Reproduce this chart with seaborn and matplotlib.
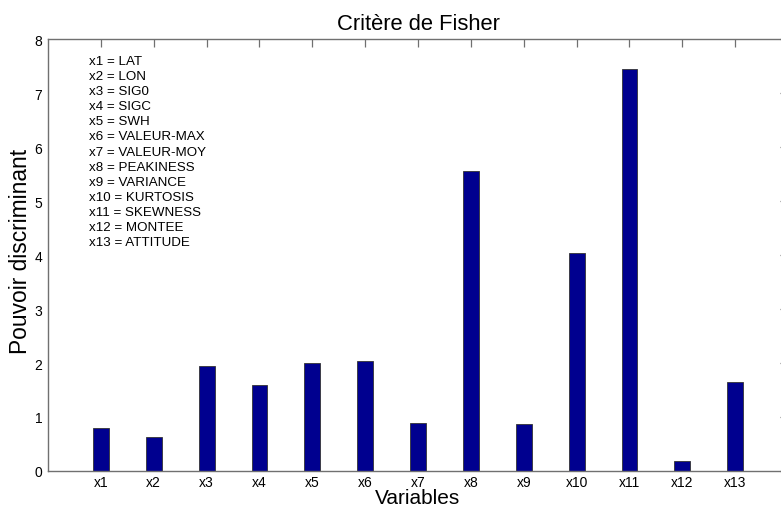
import matplotlib
matplotlib.use("Agg")
import matplotlib.pyplot as plt
import seaborn as sns
import pandas as pd

# Fisher criterion per variable
variables = ["x1", "x2", "x3", "x4", "x5", "x6", "x7", "x8", "x9", "x10", "x11", "x12", "x13"]
pouvoir = [0.80, 0.63, 1.94, 1.59, 2.00, 2.04, 0.89, 5.55, 0.87, 4.03, 7.44, 0.185, 1.65]
noms = ["LAT", "LON", "SIG0", "SIGC", "SWH", "VALEUR-MAX", "VALEUR-MOY",
        "PEAKINESS", "VARIANCE", "KURTOSIS", "SKEWNESS", "MONTEE", "ATTITUDE"]

df = pd.DataFrame({"var": variables, "val": pouvoir})

sns.set_style("white")
plt.rcParams["font.family"] = ["Liberation Sans", "DejaVu Sans"]
plt.rcParams["text.color"] = "black"
plt.rcParams["axes.labelcolor"] = "black"

fig = plt.figure(figsize=(7.81, 5.10), dpi=100)
# axes runs slightly past the right edge, like the cropped original
ax = fig.add_axes([48 / 781, 38 / 510, 740 / 781, 432 / 510])

sns.barplot(data=df, x="var", y="val", ax=ax, color="#00008F", width=0.3,
            saturation=1, edgecolor="#333333", linewidth=0.6)

ax.set_xlim(-1, 13)
ax.set_ylim(0, 8)
ax.set_yticks(range(0, 9))

gris = "#707070"
for s in ax.spines.values():
    s.set_color(gris)
    s.set_linewidth(1.0)
ax.tick_params(direction="in", length=6, width=0.9, color=gris,
               top=True, right=True, labelsize=10, labelcolor="black")
ax.tick_params(axis="x", pad=3)
ax.tick_params(axis="y", pad=4)

ax.set_title("Critère de Fisher", fontsize=15.8, pad=7)
ax.set_xlabel("Variables", fontsize=15, va="baseline")
ax.xaxis.set_label_coords(0.5, -0.074)
ax.set_ylabel("Pouvoir discriminant", fontsize=16.4)
ax.yaxis.set_label_coords(-0.021, 0.51)

legende = "\n".join(f"{v} = {n}" for v, n in zip(variables, noms))
ax.text(-0.23, 7.71, legende, fontsize=9.6, va="top", ha="left", linespacing=1.35)

fig.savefig("out.png", dpi=100)
